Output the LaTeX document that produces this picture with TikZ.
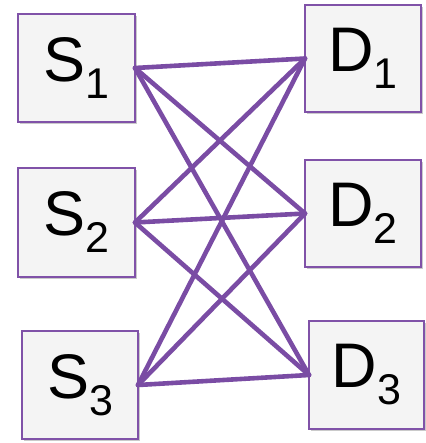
\documentclass[tikz,border=0pt]{standalone}
\usepackage{fontspec}
\setmainfont{Liberation Sans}
\usetikzlibrary{shadows}
\definecolor{boxborder}{RGB}{128,82,168}
\definecolor{linkcol}{RGB}{122,76,164}
\definecolor{boxfill}{RGB}{244,244,244}
\newcommand{\lbl}[2]{\fontsize{63}{63}\selectfont #1\raisebox{-17pt}{\fontsize{43}{43}\selectfont #2}}
\tikzset{
  unitbox/.style={draw=boxborder, line width=1.5pt, fill=boxfill, rectangle, inner sep=0pt, outer sep=0pt,
    drop shadow={shadow xshift=1.5pt, shadow yshift=-2pt, opacity=0.35, fill=black!60}},
  link/.style={draw=linkcol, line width=4.6pt, line cap=round}
}
\begin{document}
\begin{tikzpicture}[x=1pt,y=-1pt]
\useasboundingbox (0,0) rectangle (425,443);
\node[unitbox, minimum width=117pt, minimum height=108pt] (S1) at (76.5,68) {\lbl{S}{1}};
\node[unitbox, minimum width=117pt, minimum height=109pt] (S2) at (76.5,222.5) {\lbl{S}{2}};
\node[unitbox, minimum width=116pt, minimum height=108pt] (S3) at (80,385) {\lbl{S}{3}};
\node[unitbox, minimum width=116pt, minimum height=107pt] (D1) at (363,58.5) {\lbl{D}{1}};
\node[unitbox, minimum width=116pt, minimum height=107pt] (D2) at (363,213.5) {\lbl{D}{2}};
\node[unitbox, minimum width=115pt, minimum height=108pt] (D3) at (366.5,375) {\lbl{D}{3}};
\foreach \s in {S1,S2,S3}{
  \foreach \d in {D1,D2,D3}{
    \draw[link] (\s.east) -- (\d.west);
  }
}
\end{tikzpicture}
\end{document}
